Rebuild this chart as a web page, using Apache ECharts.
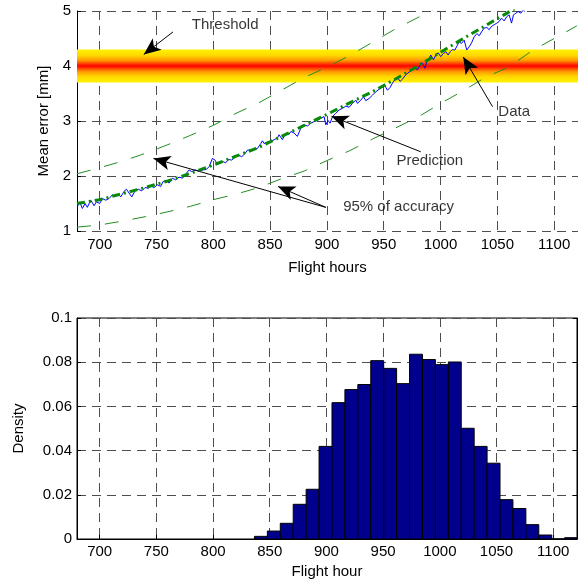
<!DOCTYPE html>
<html>
<head>
<meta charset="utf-8">
<script src="https://cdn.jsdelivr.net/npm/echarts@6/dist/echarts.min.js"></script>
<style>
  html, body { margin: 0; padding: 0; background: #fff; }
  #chart { width: 581px; height: 585px; }
</style>
</head>
<body>
<div id="chart"></div>
<script>
// x axis tick labels (both panels)
const hourTicks = [700, 750, 800, 850, 900, 950, 1000, 1050, 1100];

// measured mean error (blue line)
const dataHours = [680.3, 682.4, 684.7, 687.1, 689.1, 692.1, 695.0, 697.1, 700.0, 702.4, 705.3, 708.2, 711.2, 713.5, 716.4, 718.5, 721.4, 723.5, 725.8, 728.2, 731.1, 734.0, 737.0, 739.9, 742.9, 744.9, 747.8, 750.8, 753.7, 755.8, 758.7, 761.0, 764.0, 766.9, 769.8, 772.8, 775.1, 778.7, 781.0, 783.9, 787.5, 791.0, 793.9, 796.3, 799.2, 801.5, 803.6, 805.7, 808.6, 810.9, 813.3, 816.2, 819.2, 822.1, 825.0, 828.0, 830.0, 833.0, 835.9, 838.8, 841.8, 843.2, 844.7, 847.6, 850.6, 853.5, 856.4, 857.9, 860.8, 863.8, 866.7,
  868.2, 871.1, 874.0, 877.0, 879.9, 882.9, 885.8, 888.7, 891.7, 894.6, 897.5, 899.0, 901.0, 902.8, 904.9, 907.8, 910.7, 913.7, 916.6, 919.5, 922.5, 925.4, 926.9, 929.8, 932.2, 934.2, 937.1, 940.1, 943.0, 946.0, 948.9, 950.4, 953.3, 955.6, 957.7, 959.7, 962.1, 964.4, 966.5, 968.6, 970.9, 973.2, 975.3, 977.4, 979.7, 982.1, 984.1, 986.2, 987.9, 990.0, 991.4, 993.8, 995.8, 997.9, 1000.2, 1002.6, 1004.7, 1006.7, 1008.5, 1010.5, 1012.6, 1014.9, 1016.4, 1018.4, 1020.8, 1023.1, 1025.2, 1027.3, 1029.6, 1032.0, 1034.0, 1036.1, 1038.4, 1040.8, 1042.8, 1044.9, 1047.2, 1049.6, 1051.6, 1053.7, 1056.0, 1058.4, 1060.4, 1062.5, 1064.2, 1066.3, 1068.3, 1070.7, 1072.7, 1074.2];
const dataError = [1.44, 1.53, 1.41, 1.50, 1.43, 1.56, 1.46, 1.53, 1.50, 1.59, 1.56, 1.59, 1.66, 1.62, 1.67, 1.62, 1.72, 1.76, 1.69, 1.62, 1.73, 1.76, 1.73, 1.79, 1.78, 1.82, 1.79, 1.84, 1.81, 1.90, 1.92, 1.87, 1.96, 1.93, 1.98, 1.96, 2.02, 2.11, 2.08, 2.11, 2.09, 2.11, 2.12, 2.17, 2.32, 2.29, 2.21, 2.23, 2.26, 2.24, 2.30, 2.29, 2.34, 2.38, 2.35, 2.41, 2.47, 2.47, 2.49, 2.50, 2.59, 2.64, 2.59, 2.62, 2.62, 2.66, 2.69, 2.75, 2.66, 2.78, 2.76,
  2.81, 2.78, 2.72, 2.87, 2.93, 2.91, 2.96, 2.99, 3.01, 3.05, 3.08, 2.93, 3.01, 2.96, 3.08, 3.14, 3.20, 3.23, 3.27, 3.25, 3.32, 3.38, 3.32, 3.38, 3.44, 3.37, 3.41, 3.47, 3.53, 3.58, 3.62, 3.66, 3.56, 3.61, 3.69, 3.75, 3.79, 3.72, 3.76, 3.82, 3.87, 3.90, 3.93, 3.96, 3.93, 4.02, 4.05, 3.96, 4.08, 4.14, 4.20, 4.11, 4.20, 4.24, 4.17, 4.23, 4.26, 4.20, 4.26, 4.30, 4.29, 4.38, 4.44, 4.41, 4.47, 4.29, 4.35, 4.42, 4.53, 4.59, 4.55, 4.62, 4.69, 4.70, 4.66, 4.72, 4.75, 4.78, 4.81, 4.87, 4.82, 4.90, 4.93, 4.78, 4.93, 4.96, 4.99, 4.96, 5.02, 4.99];

// prediction (green dash-dot)
const predHours = [680, 700, 720, 740, 760, 780, 800, 820, 840, 860, 880, 900, 920, 940, 960, 980, 1000, 1020, 1040, 1060, 1080];
const predError = [1.50, 1.57, 1.68, 1.79, 1.91, 2.05, 2.20, 2.36, 2.52, 2.72, 2.92, 3.12, 3.33, 3.53, 3.76, 4.00, 4.25, 4.50, 4.74, 4.98, 5.22];

// 95% bounds (green dashed)
const upperHours = [680, 700, 720, 740, 760, 780, 800, 820, 840, 860, 880, 900, 920, 940, 960, 980, 1000];
const upperError = [2.04, 2.15, 2.27, 2.41, 2.57, 2.74, 2.92, 3.14, 3.33, 3.56, 3.79, 3.98, 4.19, 4.43, 4.67, 4.88, 5.10];
const lowerHours = [680, 700, 720, 740, 760, 780, 800, 820, 840, 860, 880, 900, 920, 940, 960, 980, 1000, 1020, 1040, 1060, 1080, 1100, 1120];
const lowerError = [1.07, 1.11, 1.18, 1.26, 1.35, 1.45, 1.57, 1.67, 1.79, 1.95, 2.09, 2.28, 2.46, 2.67, 2.87, 3.07, 3.32, 3.55, 3.80, 3.98, 4.27, 4.50, 4.73];

// threshold band [mm]
const thresholdBand = [3.7, 4.3];

// histogram of predicted failure hour
const binCenters = [842.2, 853.6, 865.0, 876.4, 887.8, 899.2, 910.6, 922.0, 933.4, 944.8, 956.2, 967.6, 979.0, 990.4, 1001.8, 1013.2, 1024.6, 1036.0, 1047.4, 1058.8, 1070.2, 1081.6, 1093.0, 1104.4, 1115.8];
const binWidth = 11.4;
const density = [0.0012, 0.0036, 0.0071, 0.0157, 0.0225, 0.0419, 0.0617, 0.0676, 0.0699, 0.0807, 0.0772, 0.0703, 0.0836, 0.0812, 0.0789, 0.0801, 0.0501, 0.0419, 0.0343, 0.0178, 0.0138, 0.0065, 0.0018, 0, 0.0006];

const pairs = (xs, ys) => xs.map((x, i) => [x, ys[i]]);
const FONT = 'Liberation Sans';

const gridLine = { show: true, lineStyle: { color: '#4d4d4d', type: [9, 6], width: 1 } };
const tickLabel = { color: '#000', fontSize: 15, fontFamily: FONT, formatter: v => String(v) };

const chart = echarts.init(document.getElementById('chart'));

chart.setOption({
  animation: false,
  grid: [
    { left: 77, top: 11, width: 501, height: 220 },
    { left: 77, top: 318, width: 500, height: 221, show: true, borderColor: '#000', borderWidth: 1 },
  ],
  xAxis: [
    {
      type: 'value', gridIndex: 0, min: 680, max: 1121,
      axisLine: { show: false },
      axisTick: { show: false, customValues: hourTicks },
      axisLabel: Object.assign({ customValues: hourTicks, margin: 6 }, tickLabel),
      splitLine: gridLine,
      name: 'Flight hours', nameLocation: 'middle', nameGap: 29,
      nameTextStyle: { color: '#000', fontSize: 15, fontFamily: FONT },
    },
    {
      type: 'value', gridIndex: 1, min: 680, max: 1121,
      axisLine: { show: true, lineStyle: { color: '#000' } },
      axisTick: { show: true, inside: true, length: 4, customValues: hourTicks, lineStyle: { color: '#000' } },
      axisLabel: Object.assign({ customValues: hourTicks, margin: 5 }, tickLabel),
      splitLine: gridLine,
      name: 'Flight hour', nameLocation: 'middle', nameGap: 25,
      nameTextStyle: { color: '#000', fontSize: 15, fontFamily: FONT },
    },
  ],
  yAxis: [
    {
      type: 'value', gridIndex: 0, min: 1, max: 5, interval: 1,
      axisLine: { show: true, lineStyle: { color: '#000' } },
      axisTick: { show: true, inside: true, length: 4, lineStyle: { color: '#000' } },
      axisLabel: Object.assign({ margin: 6 }, tickLabel),
      splitLine: gridLine,
      name: 'Mean error [mm]', nameLocation: 'middle', nameGap: 26,
      nameTextStyle: { color: '#000', fontSize: 15, fontFamily: FONT },
    },
    {
      type: 'value', gridIndex: 1, min: 0, max: 0.1, interval: 0.02,
      axisLine: { show: true, lineStyle: { color: '#000' } },
      axisTick: { show: true, inside: true, length: 4, lineStyle: { color: '#000' } },
      axisLabel: Object.assign({ margin: 5 }, tickLabel),
      splitLine: gridLine,
      name: 'Density', nameLocation: 'middle', nameGap: 51,
      nameTextStyle: { color: '#000', fontSize: 15, fontFamily: FONT },
    },
    {
      type: 'value', gridIndex: 1, min: 0, max: 0.1, interval: 0.02, position: 'right',
      axisLine: { show: true, lineStyle: { color: '#000' } },
      axisTick: { show: true, inside: true, length: 4, lineStyle: { color: '#000' } },
      axisLabel: { show: false },
      splitLine: { show: false },
    },
  ],
  series: [
    {
      // threshold band
      type: 'line', xAxisIndex: 0, yAxisIndex: 0, data: [], z: 1, silent: true,
      markArea: {
        silent: true,
        itemStyle: {
          opacity: 1,
          color: new echarts.graphic.LinearGradient(0, 0, 0, 1, [
            { offset: 0, color: '#fff200' },
            { offset: 0.18, color: '#ffd800' },
            { offset: 0.33, color: '#ff9a00' },
            { offset: 0.5, color: '#ff0000' },
            { offset: 0.67, color: '#ff9a00' },
            { offset: 0.82, color: '#ffd800' },
            { offset: 1, color: '#fff200' },
          ]),
        },
        data: [[{ yAxis: thresholdBand[1] }, { yAxis: thresholdBand[0] }]],
      },
    },
    {
      name: 'Upper', type: 'line', xAxisIndex: 0, yAxisIndex: 0, z: 3,
      data: pairs(upperHours, upperError), showSymbol: false, silent: true,
      lineStyle: { color: '#238c23', width: 1, type: [14, 14] },
    },
    {
      name: 'Lower', type: 'line', xAxisIndex: 0, yAxisIndex: 0, z: 3,
      data: pairs(lowerHours, lowerError), showSymbol: false, silent: true,
      lineStyle: { color: '#238c23', width: 1, type: [14, 14] },
    },
    {
      name: 'Data', type: 'line', xAxisIndex: 0, yAxisIndex: 0, z: 4,
      data: pairs(dataHours, dataError), showSymbol: false, silent: true,
      lineStyle: { color: '#0000ff', width: 1 },
    },
    {
      name: 'Prediction', type: 'line', xAxisIndex: 0, yAxisIndex: 0, z: 5,
      data: pairs(predHours, predError), showSymbol: false, silent: true,
      lineStyle: { color: '#078a07', width: 3, type: [8, 4, 2, 4] },
    },
    {
      // annotation texts + arrows (arrow end = centre of the head)
      type: 'scatter', xAxisIndex: 0, yAxisIndex: 0, z: 6, silent: true,
      symbolSize: 1, itemStyle: { color: 'transparent' },
      data: [
        [810.4, 4.75, 'Threshold'],
        [1064.8, 3.16, 'Data'],
        [990.6, 2.27, 'Prediction'],
        [963.1, 1.44, '95% of accuracy'],
      ],
      label: {
        show: true, position: 'inside', color: '#000', fontSize: 15, fontFamily: FONT,
        formatter: p => p.data[2],
      },
      markLine: {
        silent: true,
        symbol: ['none', 'arrow'],
        symbolSize: [11, 17],
        label: { show: false },
        lineStyle: { color: '#000', width: 1, type: 'solid' },
        itemStyle: { color: '#000' },
        data: [
          [{ coord: [764.5, 4.62] }, { coord: [738.8, 4.21] }],
          [{ coord: [1045.8, 3.26] }, { coord: [1020.0, 4.165] }],
          [{ coord: [982.6, 2.44] }, { coord: [904.0, 3.086] }],
          [{ coord: [899.0, 1.43] }, { coord: [747.3, 2.32] }],
          [{ coord: [899.0, 1.43] }, { coord: [857.0, 1.81] }],
        ],
      },
    },
    {
      name: 'Density', type: 'custom', xAxisIndex: 1, yAxisIndex: 1,
      data: binCenters.map((c, i) => [c - binWidth / 2, c + binWidth / 2, density[i]]),
      renderItem: (params, api) => {
        const p0 = api.coord([api.value(0), api.value(2)]);
        const p1 = api.coord([api.value(1), 0]);
        return {
          type: 'rect',
          shape: { x: p0[0], y: p0[1], width: p1[0] - p0[0], height: p1[1] - p0[1] },
          style: { fill: '#00008c', stroke: '#000', lineWidth: 1 },
        };
      },
      encode: { x: [0, 1], y: 2 },
    },
  ],
});
</script>
</body>
</html>
